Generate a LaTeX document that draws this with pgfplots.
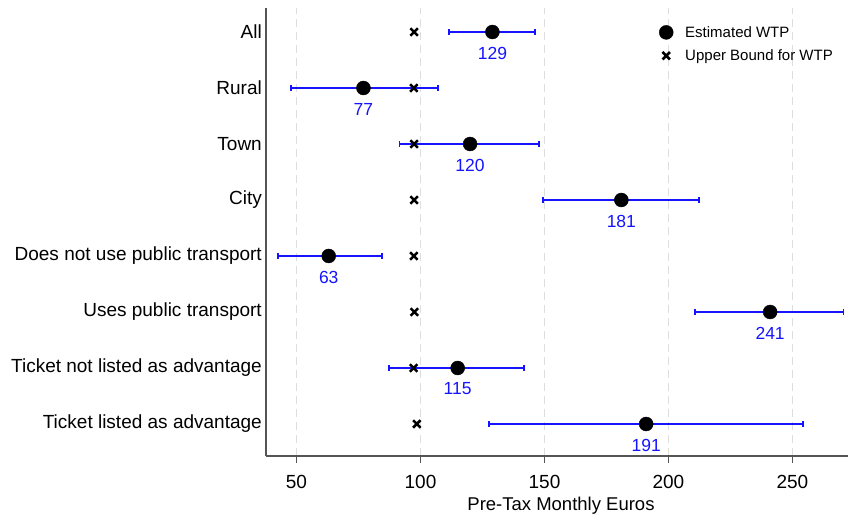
\documentclass[border=0pt]{standalone}
\usepackage{pgfplots}
\pgfplotsset{compat=1.18}
\usepackage{pgfplotstable}
\usepackage{fontspec}
\setmainfont{Liberation Sans}

\definecolor{wtpblue}{RGB}{20,20,255}
\definecolor{axisgray}{RGB}{85,85,85}
\definecolor{gridgray}{RGB}{222,222,222}

% y: row position (8 = top), est: estimated WTP, ub: upper bound
\pgfplotstableread{
y est ub
8 129 97.4
7 77  97.3
6 120 97.4
5 181 97.4
4 63  97.3
3 241 97.5
2 115 97.2
1 191 98.5
}\wtpdata

% interval end points, one segment per row
\pgfplotstableread{
x     y
111.5 8
146.3 8
nan   nan
47.8  7
107.1 7
nan   nan
91.5  6
147.9 6
nan   nan
149.3 5
212.2 5
nan   nan
42.4  4
84.6  4
nan   nan
210.7 3
270.6 3
nan   nan
87.4  2
141.7 2
nan   nan
127.6 1
254.1 1
}\cidata

\begin{document}
\begin{tikzpicture}
\begin{axis}[
  scale only axis,
  width=582pt, height=448pt,
  xmin=37.7, xmax=272.4,
  ymin=0.4286, ymax=8.4286,
  axis x line=bottom, axis y line=left,
  axis line style={-, draw=axisgray, line width=1.2pt},
  /pgf/number format/assume math mode=true,
  xtick={50,100,150,200,250},
  ytick={1,2,3,4,5,6,7,8},
  yticklabels={Ticket listed as advantage, Ticket not listed as advantage,
    Uses public transport, Does not use public transport, City, Town, Rural, All},
  tick align=outside,
  xtick style={draw=axisgray, line width=0.8pt},
  ytick style={draw=none},
  major tick length=7pt,
  ticklabel style={font=\fontsize{19}{22}\selectfont},
  yticklabel style={inner xsep=0pt, xshift=3pt},
  xticklabel style={yshift=-9pt},
  xmajorgrids,
  grid style={draw=gridgray, line width=1pt, dash pattern=on 8pt off 5pt},
  xlabel={Pre-Tax Monthly Euros},
  xlabel style={font=\fontsize{18.5}{21}\selectfont, at={(axis description cs:0.5,0)}, anchor=center, yshift=-50pt, xshift=4pt},
  legend style={draw=none, fill=none, at={(1,1)}, anchor=north east,
    xshift=-10pt, yshift=-14pt, font=\fontsize{15}{18}\selectfont,
    row sep=7pt},
  legend cell align=left,
  legend image code/.code={\draw[#1] plot coordinates {(0cm,0cm)};
    \path[draw=none] (-8pt,0pt) -- (17pt,0pt);},
  clip=false,
]
% confidence intervals
\addplot[draw=wtpblue, line width=2pt, mark=|, mark size=3pt,
  mark options={draw=wtpblue, solid, line width=1.8pt},
  unbounded coords=jump, forget plot]
  table[x=x, y=y] {\cidata};
% point estimates with value labels
\addplot[only marks, mark=*, mark size=7pt, black,
  mark options={line width=0.4pt},
  point meta=x,
  nodes near coords={\pgfmathprintnumber[fixed,precision=0]{\pgfplotspointmeta}},
  every node near coord/.append style={text=wtpblue, anchor=center,
    yshift=-21pt, font=\fontsize{17.5}{20}\selectfont}]
  table[x=est, y=y] {\wtpdata};
\addlegendentry{Estimated WTP}
% upper bounds
\addplot[only marks, mark=x, mark size=5.3pt, black, mark options={line width=2.5pt}]
  table[x=ub, y=y] {\wtpdata};
\addlegendentry{Upper Bound for WTP}
\end{axis}
\pgfresetboundingbox
\path[use as bounding box] ([xshift=-266pt,yshift=-59pt]current axis.south west)
  rectangle ([xshift=1pt,yshift=8pt]current axis.north east);
\end{tikzpicture}
\end{document}
